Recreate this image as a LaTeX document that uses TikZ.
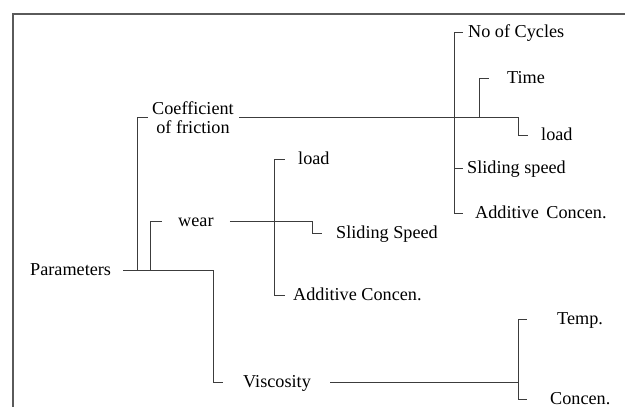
\documentclass[tikz,border=0pt]{standalone}
\usepackage{fontspec}
\setmainfont{Liberation Serif}
\usepackage{tikz}
\usetikzlibrary{positioning,calc}
\definecolor{linegrey}{RGB}{60,60,60}
\definecolor{framegrey}{RGB}{90,90,90}

\begin{document}
\begin{tikzpicture}[x=1pt, y=-1pt,
    lbl/.style={anchor=west, inner sep=0pt, font=\fontsize{18.2}{19.5}\selectfont, text height=13pt, text depth=2pt},
    link/.style={draw=linegrey, line width=0.9pt},
    frame/.style={draw=framegrey, line width=1.1pt}
]
\useasboundingbox (0,0) rectangle (625,407);
\draw[frame] (625,14) -- (13,14) -- (13,407);

% labels
\node[lbl] (param) at (30,270) {Parameters};
\node[inner sep=0pt, align=center, font=\fontsize{18.2}{19.5}\selectfont] (coef) at (193,117.5) {Coefficient\\of friction};
\node[lbl] (wear) at (178,221) {wear};
\node[lbl] (visc) at (243,382) {Viscosity};
\node[lbl] (cyc) at (468,32) {No of Cycles};
\node[lbl] (time) at (507,78) {Time};
\node[lbl] (loadc) at (541,135) {load};
\node[lbl] (slidec) at (467,168) {Sliding speed};
\node[lbl] (addc) at (475,213) {Additive\hspace{3pt} Concen.};
\node[lbl] (loadw) at (298,159) {load};
\node[lbl] (slidew) at (336,233) {Sliding Speed};
\node[lbl] (addw) at (293,295) {Additive Concen.};
\node[lbl] (temp) at (557,319) {Temp.};
\node[lbl] (conc) at (550,399) {Concen.};

% junctions
\coordinate (jcoef) at (137,270);
\coordinate (jwear) at (150,270);
\coordinate (jvisc) at (213,270);
\coordinate (jc1) at (454,117);
\coordinate (jc2) at (479,117);
\coordinate (jw) at (274,221);
\coordinate (jv) at (518,382);

% parameters
\draw[link, shorten <=12pt, shorten >=20pt] (param.east) -- (jvisc) |- (visc.west);
\draw[link, shorten >=4pt] (jcoef) |- (coef.west);
\draw[link, shorten >=16pt] (jwear) |- (wear.west);

% coefficient of friction
\draw[link, shorten <=5.5pt, shorten >=13pt] (coef.east) -- (518,117.5) |- (loadc.west);
\draw[link, shorten >=5pt] (jc1) |- (cyc.west);
\draw[link, shorten >=4pt] (jc1) |- (slidec.west);
\draw[link, shorten >=12pt] (jc1) |- (addc.west);
\draw[link, shorten >=18pt] (jc2) |- (time.west);

% wear
\draw[link, shorten <=16pt, shorten >=14pt] (wear.east) -- (312,221) |- (slidew.west);
\draw[link, shorten >=13pt] (jw) |- (loadw.west);
\draw[link, shorten >=8pt] (jw) |- (addw.west);

% viscosity
\draw[link, shorten <=19pt] (visc.east) -- (jv);
\draw[link, shorten >=30pt] (jv) |- (temp.west);
\draw[link, shorten >=23pt] (jv) |- (conc.west);
\end{tikzpicture}
\end{document}
